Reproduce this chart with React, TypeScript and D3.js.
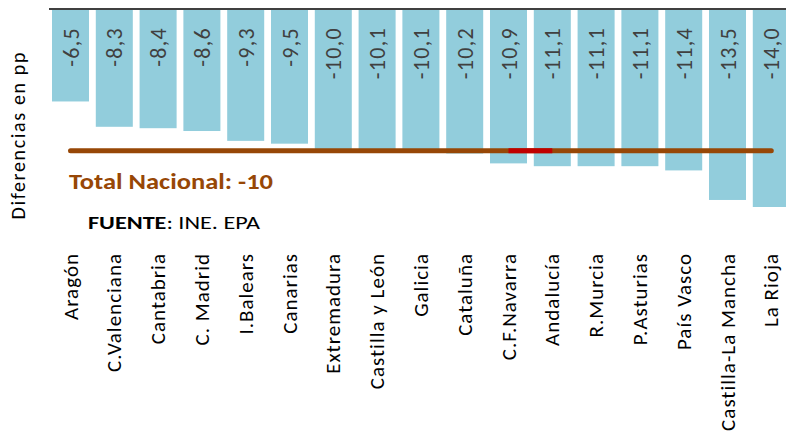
import React from "react";
import * as d3 from "d3";

const categories = [
  "Aragón", "C.Valenciana", "Cantabria", "C. Madrid", "I.Balears", "Canarias",
  "Extremadura", "Castilla y León", "Galicia", "Cataluña", "C.F.Navarra",
  "Andalucía", "R.Murcia", "P.Asturias", "País Vasco", "Castilla-La Mancha", "La Rioja",
];
const values = [-6.5, -8.3, -8.4, -8.6, -9.3, -9.5, -10.0, -10.1, -10.1, -10.2, -10.9, -11.1, -11.1, -11.1, -11.4, -13.5, -14.0];
const totalNacional = -10;
const highlightFrom = "C.F.Navarra";
const highlightTo = "Andalucía";

const W = 786, H = 434;
const FONT = "Carlito, Calibri, Lato, 'Open Sans', sans-serif";

export default function App() {
  const x = d3.scaleBand<string>().domain(categories).range([48.6, 48.6 + 17 * 43.8]).paddingInner(0.155).paddingOuter(0.0775);
  const y = d3.scaleLinear().domain([0, -14]).range([10, 207]);
  const cx = (c: string) => (x(c) as number) + x.bandwidth() / 2;
  const fmt = (v: number) => v.toFixed(1).replace(".", ",");

  const pts = categories.map((c) => [cx(c), y(totalNacional)] as [number, number]);
  const line = d3.line();
  const hi = [cx(highlightFrom), cx(highlightTo)];

  return (
    <svg width={W} height={H} style={{ position: "absolute", left: 0, top: 0, background: "#fff" }} fontFamily={FONT}>
      {categories.map((c, i) => (
        <rect key={c} x={x(c)} y={y(0)} width={x.bandwidth()} height={y(values[i]) - y(0)} fill="#92CDDC" />
      ))}
      <line x1={49} x2={W} y1={9} y2={9} stroke="#000" strokeWidth={1.5} />
      {categories.map((c, i) => (
        <text key={"v" + c} transform={`translate(${cx(c) + 8},27) rotate(-90)`} textAnchor="end" fontSize={22} letterSpacing={1.3} fill="#404040">
          {fmt(values[i])}
        </text>
      ))}
      <path d={line(pts) || ""} stroke="#974706" strokeWidth={5} fill="none" strokeLinecap="round" />
      <line x1={hi[0]} x2={hi[1]} y1={y(totalNacional)} y2={y(totalNacional)} stroke="#C00000" strokeWidth={5} />
      <text x={69} y={189} fontSize={22} fontWeight="bold" fill="#974706" textLength={204} lengthAdjust="spacingAndGlyphs">
        Total Nacional:  -10
      </text>
      <text x={88} y={229} fontSize={19} fill="#000" textLength={172} lengthAdjust="spacingAndGlyphs">
        <tspan fontWeight="bold">FUENTE</tspan>: INE. EPA
      </text>
      <text transform="translate(25,136) rotate(-90)" textAnchor="middle" fontSize={20} fill="#000" textLength={167} lengthAdjust="spacing">
        Diferencias en pp
      </text>
      {categories.map((c) => (
        <text key={"l" + c} transform={`translate(${cx(c) + 7},253) rotate(-90)`} textAnchor="end" fontSize={21} letterSpacing={1} fill="#000">
          {c}
        </text>
      ))}
    </svg>
  );
}
